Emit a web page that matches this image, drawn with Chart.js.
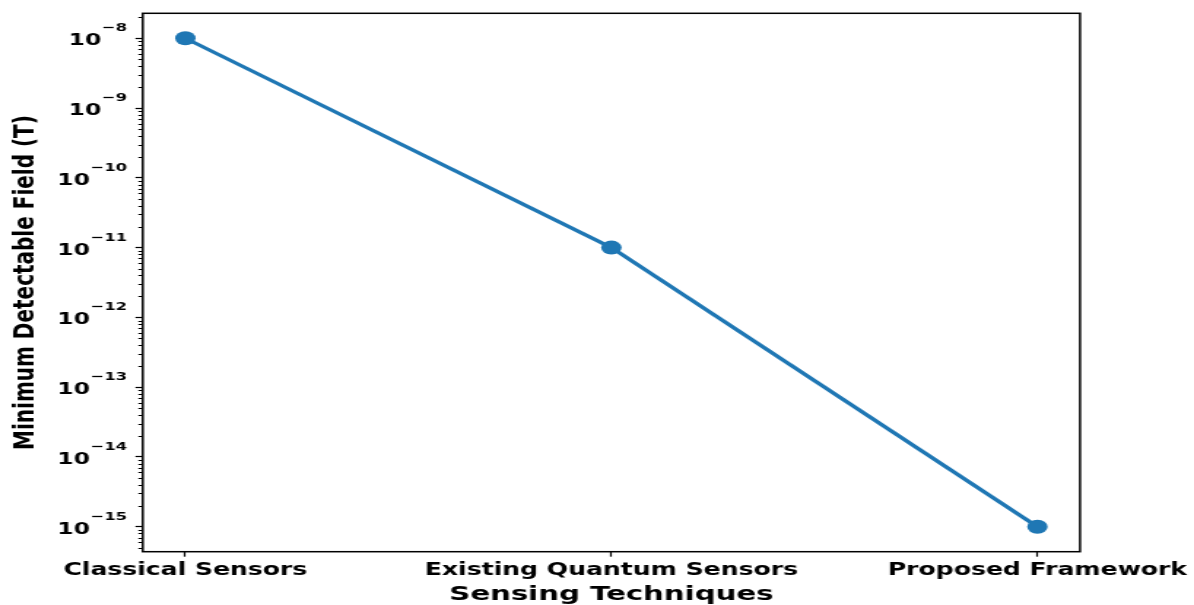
<!DOCTYPE html>
<html>
<head>
<meta charset="utf-8">
<script src="https://cdn.jsdelivr.net/npm/chart.js@4/dist/chart.umd.min.js"></script>
<style>
  html, body { margin: 0; padding: 0; background: #ffffff; }
  #chart { display: block; }
</style>
</head>
<body>
<!-- drawn at 818px wide and shown at 1194px, giving the wide, stretched look -->
<canvas id="chart" width="818" height="605" style="width:1194px;height:605px;"></canvas>
<script>
// Sensing techniques compared by minimum detectable magnetic field
const categories = ['Classical Sensors', 'Existing Quantum Sensors', 'Proposed Framework'];
const minFieldTesla = [1e-8, 1e-11, 1e-15];
const yTickExponents = [-15, -14, -13, -12, -11, -10, -9, -8];

const FONT = "'DejaVu Sans', 'Liberation Sans', sans-serif";
const BLUE = '#1f77b4';

// exponent text with a true minus sign
function exponentText(exp) {
  return (exp < 0 ? '\u2212' : '') + String(Math.abs(exp));
}

// frame, minor log ticks and "10^n" tick labels with raised exponents
const axisDecor = {
  id: 'axisDecor',
  afterDraw(chart) {
    const { ctx, chartArea: a } = chart;
    const y = chart.scales.y;
    ctx.save();
    ctx.strokeStyle = '#000';
    ctx.lineWidth = 1;
    for (let e = -16; e <= -7; e++) {
      for (let k = 2; k <= 9; k++) {
        const v = k * Math.pow(10, e);
        if (v < y.min || v > y.max) continue;
        const py = Math.round(y.getPixelForValue(v)) + 0.5;
        ctx.beginPath();
        ctx.moveTo(a.left - 3, py);
        ctx.lineTo(a.left, py);
        ctx.stroke();
      }
    }
    ctx.lineWidth = 1.5;
    ctx.strokeRect(a.left, a.top, a.right - a.left, a.bottom - a.top);

    ctx.fillStyle = '#000';
    ctx.textBaseline = 'alphabetic';
    ctx.textAlign = 'right';
    const xr = a.left - 10.8;
    y.ticks.forEach(t => {
      const exp = Math.round(Math.log10(t.value));
      const py = y.getPixelForValue(t.value);
      ctx.font = 'bold 11.2px ' + FONT;
      const sup = exponentText(exp);
      const supW = ctx.measureText(sup).width;
      ctx.fillText(sup, xr, py - 7);
      ctx.font = 'bold 16px ' + FONT;
      ctx.fillText('10', xr - supW - 0.5, py + 7);
    });
    ctx.restore();
  }
};

new Chart(document.getElementById('chart'), {
  type: 'line',
  data: {
    datasets: [{
      data: minFieldTesla.map((v, i) => ({ x: i, y: v })),
      borderColor: BLUE,
      backgroundColor: BLUE,
      borderWidth: 3.3,
      pointRadius: 7,
      pointHoverRadius: 7,
      pointBorderWidth: 0,
      pointBackgroundColor: BLUE,
      tension: 0,
      fill: false
    }]
  },
  options: {
    responsive: false,
    devicePixelRatio: 1,
    animation: false,
    events: [],
    layout: { padding: { top: 13.3, right: 78.1, left: 0, bottom: 0 } },
    plugins: { legend: { display: false }, tooltip: { enabled: false } },
    scales: {
      x: {
        type: 'linear',
        position: 'bottom',
        min: -0.1,
        max: 2.1,
        afterBuildTicks(scale) { scale.ticks = categories.map((_, i) => ({ value: i })); },
        afterFit(scale) {
          scale.height = 53.3;
          // long end labels may overhang the plot; the fixed right margin holds them
          scale.paddingLeft = 0;
          scale.paddingRight = 0;
        },
        grid: { display: true, drawOnChartArea: false, drawTicks: true, tickLength: 5, tickColor: '#000', tickWidth: 1.2 },
        border: { display: false },
        ticks: {
          color: '#000',
          padding: 4,
          maxRotation: 0,
          autoSkip: false,
          font: { family: FONT, size: 17.2, weight: 'bold', lineHeight: 1.2 },
          callback: (v) => categories[v]
        },
        title: {
          display: true,
          text: 'Sensing Techniques',
          color: '#000',
          padding: { top: 0, bottom: 0 },
          font: { family: FONT, size: 20, weight: 'bold', lineHeight: 1.0 }
        }
      },
      y: {
        type: 'logarithmic',
        position: 'left',
        min: Math.pow(10, -15.358),
        max: Math.pow(10, -7.642),
        afterBuildTicks(scale) { scale.ticks = yTickExponents.map(e => ({ value: Math.pow(10, e), major: true })); },
        afterFit(scale) { scale.width = 97.8; },
        grid: { display: true, drawOnChartArea: false, drawTicks: true, tickLength: 5, tickColor: '#000', tickWidth: 1.2 },
        border: { display: false },
        ticks: { display: false },
        title: {
          display: true,
          text: 'Minimum Detectable Field (T)',
          color: '#000',
          padding: { top: 5.4, bottom: 0 },
          font: { family: FONT, size: 20, weight: 'bold', lineHeight: 1.2 }
        }
      }
    }
  },
  plugins: [axisDecor]
});
</script>
</body>
</html>
